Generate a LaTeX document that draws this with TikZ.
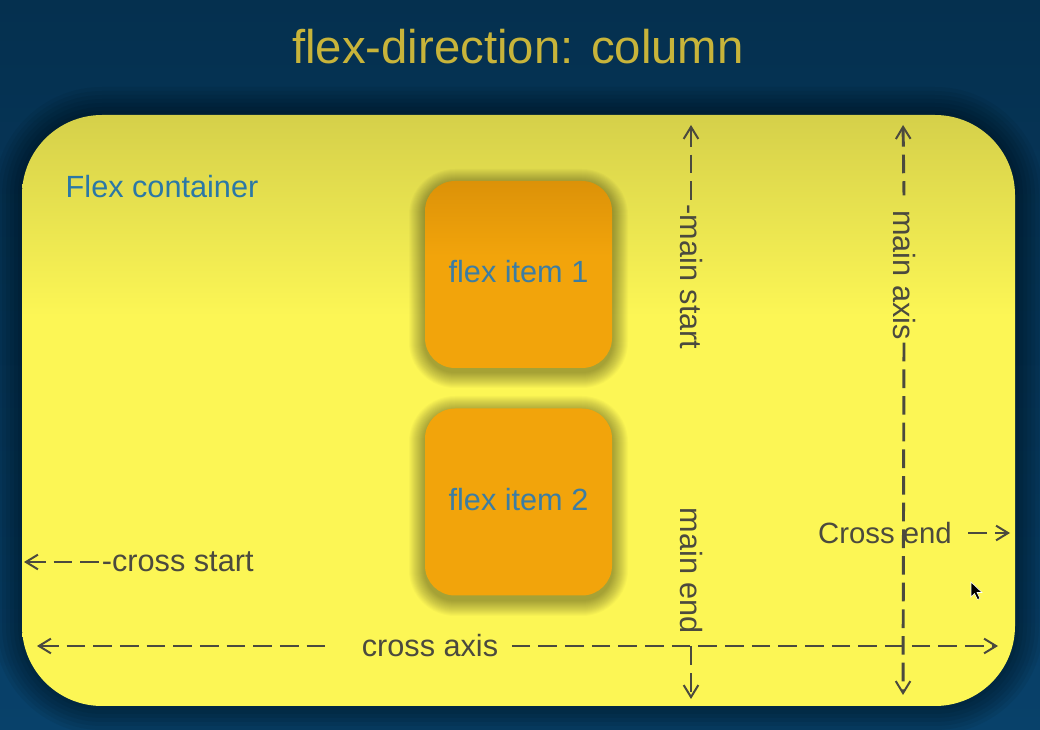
\documentclass[tikz,border=0pt]{standalone}
\usepackage{fontspec}
\setmainfont{Liberation Sans}
\usetikzlibrary{arrows.meta}
\definecolor{bgtop}{HTML}{05304F}
\definecolor{bgbot}{HTML}{08416A}
\definecolor{titlec}{HTML}{C8B43A}
\definecolor{ylw}{HTML}{FCF655}
\definecolor{olive}{HTML}{D5D04A}
\definecolor{orng}{HTML}{F2A40B}
\definecolor{orngdk}{HTML}{DC9208}
\definecolor{lbl}{HTML}{4B4A3E}
\definecolor{blu}{HTML}{2B78A6}
\definecolor{blu2}{HTML}{3C7DA3}
\pgfdeclareverticalshading{contshade}{100bp}{color(0bp)=(ylw); color(25bp)=(ylw); color(58bp)=(ylw); color(75bp)=(olive); color(100bp)=(olive)}
\pgfdeclareverticalshading{itemshade}{100bp}{color(0bp)=(orng); color(25bp)=(orng); color(55bp)=(orng); color(75bp)=(orngdk); color(100bp)=(orngdk)}
\tikzset{
  lab/.style={text=lbl, font=\fontsize{23}{26}\selectfont, inner sep=2pt},
  axl/.style={draw=lbl, line width=2.2pt, dash pattern=on 14pt off 6pt},
  >={Straight Barb[length=9pt,width=11pt,line width=1.5pt,sep=3pt]},
  itembox/.style={minimum width=140.25pt, minimum height=140.25pt, rounded corners=22.5pt, inner sep=0pt, text=blu2, font=\fontsize{23}{26}\selectfont}
}
\begin{document}
\begin{tikzpicture}[x=0.75pt,y=-0.75pt]
\useasboundingbox (0,0) rectangle (1040,730);
\fill[top color=bgtop, bottom color=bgbot] (0,0) rectangle (1040,730);
% container shadow
\foreach \d [evaluate=\d as \r using (80+\d)*0.75] in {28,24,20,16,12,8,4}
  \fill[black, opacity=0.06, rounded corners=\r pt] (22-\d,115-\d) rectangle (1015+\d,706+\d);
% container
\node[shading=contshade, rounded corners=60pt, minimum width=744.75pt, minimum height=443.25pt, inner sep=0pt] (cont) at (518.5,410.5) {};
% title
\node[text=titlec, font=\fontsize{35.5}{40}\selectfont] (title) at (518,47) {flex-direction: column};
\node[text=blu, anchor=west, font=\fontsize{23}{26}\selectfont] (fc) at (61,187) {Flex container};
% item shadows (soft)
\foreach \d in {16,15,...,1}{
  \fill[black, opacity=0.022, rounded corners=(22.5+\d*0.75)*1pt] (425-\d,181-\d+4) rectangle (612+\d,368+\d+4);
  \fill[black, opacity=0.022, rounded corners=(22.5+\d*0.75)*1pt] (425-\d,408-\d+4) rectangle (612+\d,596+\d+4);
}
\node[itembox, shading=itemshade] (it1) at (518.5,274.5) {\raisebox{4.5pt}{flex item 1}};
\node[itembox, fill=orng] (it2) at (518.5,502) {\raisebox{4.5pt}{flex item 2}};
% labels
\node[lab, anchor=west] (cs) at (99,562) {-cross start};
\node[lab] (ca) at (430,646) {cross axis};
\node[lab, font=\fontsize{22}{25}\selectfont] (ce) at (885,533) {Cross end};
\node[lab, rotate=-90] (ms) at (691,277) {-main start};
\node[lab, rotate=-90] (ma) at (904,275) {main axis};
\node[lab, rotate=-90] (me) at (691,571) {main end};
\coordinate (csT) at (20,562);
\coordinate (caL) at (33,646);
\coordinate (caR) at (1002,646);
\coordinate (ceR) at (1014,533);
\coordinate (msT) at (691,121);
\coordinate (maT) at (903,121);
\coordinate (maB) at (903,699);
\coordinate (meB) at (691,703);
% connectors
\draw[axl,<-] (csT) -- (cs.west);
\draw[axl,<-] (caL) -- ([xshift=-22pt]ca.west);
\draw[axl,->] ([xshift=8pt]ca.east) -- (caR);
\draw[axl,->] ([xshift=10pt]ce.east) -- (ceR);
\draw[axl,<-] (msT) -- (ms.west);
\draw[axl,<-] (maT) -- ([yshift=9pt]ma.west);
\draw[axl,->] (ma.east) -- (maB);
\draw[axl,->] ([yshift=-7pt]me.east) -- (meB);
% mouse pointer
\filldraw[fill=black, draw=white, line width=0.4pt] (971,582) -- (971,597) -- (974.5,593.5) -- (977.5,599.5) -- (980,598.5) -- (977,592.5) -- (982,592.5) -- cycle;
\end{tikzpicture}
\end{document}
